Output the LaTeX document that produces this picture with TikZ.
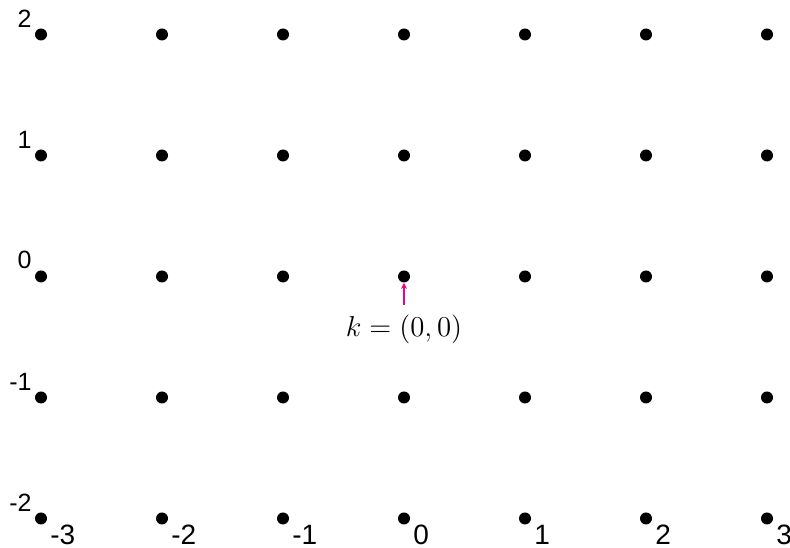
\documentclass[tikz,border=0pt]{standalone}
\usepackage{fontspec}
\setsansfont{Liberation Sans}
\usetikzlibrary{arrows.meta,calc}
\definecolor{pinkarrow}{RGB}{236,0,140}
\tikzset{
 latticedot/.style={circle,fill=black,minimum size=6pt,inner sep=0},
 rowlabel/.style={anchor=south east,inner sep=0,font=\sffamily\fontsize{12.5}{14}\selectfont},
 collabel/.style={anchor=north west,inner sep=0,font=\sffamily\fontsize{14}{16}\selectfont},
 pointer/.style={draw=pinkarrow,line width=.6pt,-{Stealth[length=3pt,width=3pt]}},
 mathlabel/.style={anchor=north,inner sep=5pt,font=\fontsize{14}{16}\selectfont}
}
\begin{document}
\begin{tikzpicture}[x=60.5pt,y=60.5pt]
\path[use as bounding box] (-3.339,-2.244) rectangle (3.190,2.285);
\foreach \i in {-3,...,3}
 \foreach \j in {-2,...,2}
  \node[latticedot] (p\i\j) at (\i,\j) {};
\foreach \j in {-2,...,2}
 \node[rowlabel] (row\j) at ($(p-3\j)+(-4.5pt,3.5pt)$) {\j};
\foreach \i in {-3,...,3}
 \node[collabel] (col\i) at ($(p\i-2)+(4.5pt,-3pt)$) {\i};
\node[mathlabel] (klabel) at ($(p00)+(0,-14.25pt)$) {$k=(0,0)$};
\draw[pointer] (klabel.north-|p00) -- (p00.south);
\end{tikzpicture}
\end{document}
